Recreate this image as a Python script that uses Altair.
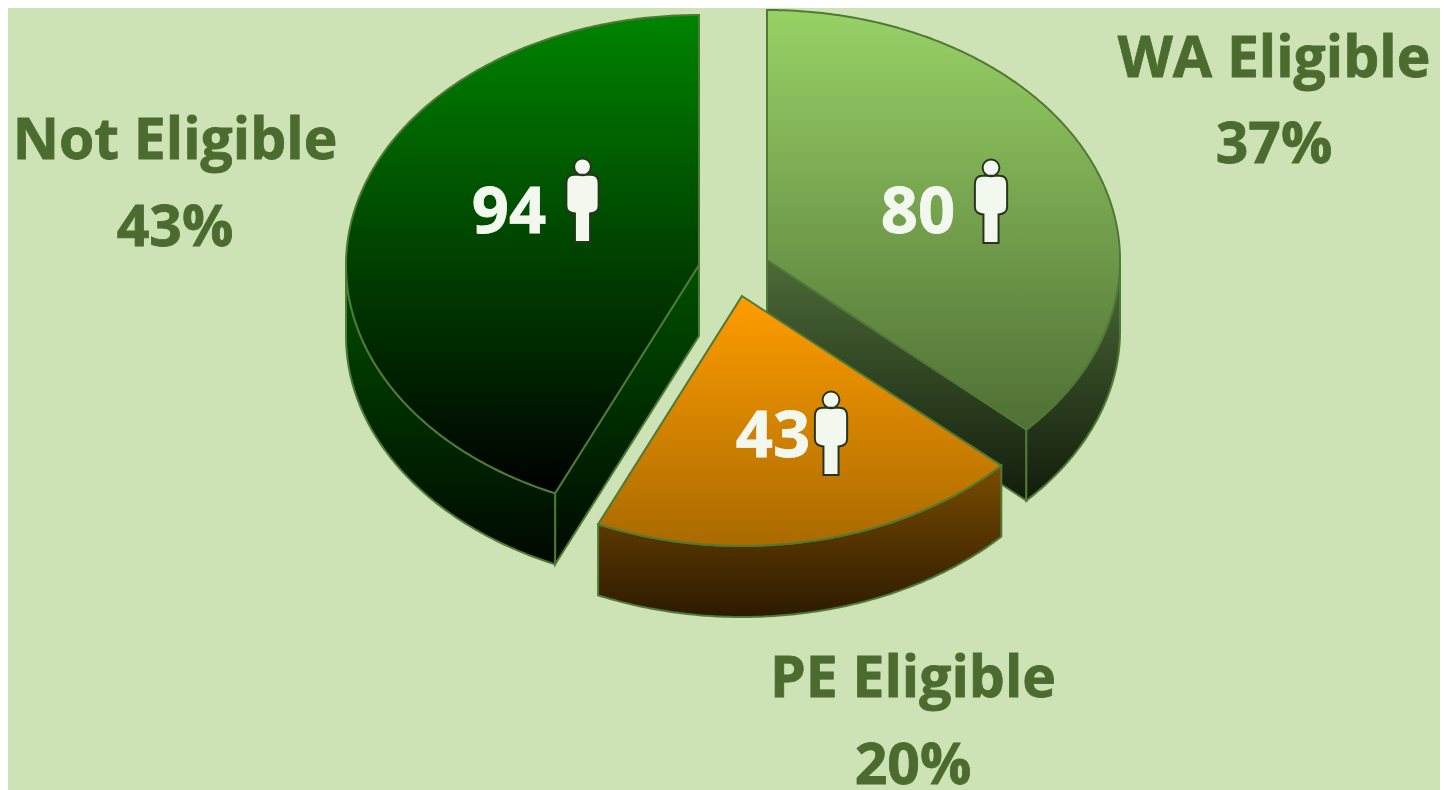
import math
import altair as alt
import pandas as pd

# --- data ---
names = ["WA Eligible", "PE Eligible", "Not Eligible"]
counts = [80, 43, 94]
percents = ["37%", "20%", "43%"]

# --- style and layout (page pixels minus the 8px page margin) ---
BG = "#cde3b5"
TEXT = "#4c6b2f"
EDGE = "#4f7a35"
INK = "#f3f8ef"
FONT = "Open Sans"
RX, RY, DEPTH = 353, 250, 71
OFF = 8
centres = {"WA Eligible": (767, 260), "PE Eligible": (742, 296), "Not Eligible": (699, 265)}
top_fill = {"WA Eligible": ("#98d266", "#506f35"),
            "PE Eligible": ("#ff9d00", "#a96a00"),
            "Not Eligible": ("#008400", "#000000")}
side_fill = {"WA Eligible": ("#4d6a38", "#121c0c"),
             "PE Eligible": ("#7a4c00", "#2c1a00"),
             "Not Eligible": ("#005000", "#000800")}
label_pos = {"WA Eligible": (1274, 77, 163), "PE Eligible": (913, 697, 784), "Not Eligible": (175, 159, 246)}
count_pos = {"WA Eligible": (918, 233), "PE Eligible": (773, 457), "Not Eligible": (509, 233)}
icon_pos = {"WA Eligible": (991, 201), "PE Eligible": (831, 433), "Not Eligible": (582.5, 200)}
PERSON = ("M0,-0.6 L0.2,-0.6 Q0.384,-0.6 0.384,-0.4 L0.384,0.14 Q0.384,0.3 0.18,0.32 "
          "L0.18,1 L-0.18,1 L-0.18,0.32 Q-0.384,0.3 -0.384,0.14 L-0.384,-0.4 "
          "Q-0.384,-0.6 -0.2,-0.6 Z "
          "M-0.2,-0.79 A0.2,0.2 0 1 1 0.2,-0.79 A0.2,0.2 0 1 1 -0.2,-0.79 Z")


def rim(name, deg, drop=0):
    cx, cy = centres[name]
    t = math.radians(deg)
    return (cx + RX * math.sin(t) - OFF, cy - RY * math.cos(t) + drop - OFF)


def sweep(start, end):
    n = max(2, int(abs(end - start)) * 2)
    return [start + (end - start) * k / n for k in range(n + 1)]


def poly(points, colours, stroke_width=2):
    df = pd.DataFrame(points, columns=["x", "y"])
    df["i"] = range(len(df))
    fill = alt.Gradient(
        gradient="linear", x1=0, y1=0, x2=0, y2=1,
        stops=[alt.GradientStop(color=colours[0], offset=0),
               alt.GradientStop(color=colours[1], offset=1)],
    )
    return alt.Chart(df).mark_line(
        interpolate="linear-closed", fill=fill, stroke=EDGE, strokeWidth=stroke_width
    ).encode(
        x=alt.X("x:Q", scale=None, axis=None),
        y=alt.Y("y:Q", scale=None, axis=None),
        order=alt.Order("i:Q"),
    )


total = sum(counts)
edges = [0]
for c in counts:
    edges.append(edges[-1] + 360 * c / total)
span = {n: (edges[i], edges[i + 1]) for i, n in enumerate(names)}

layers = []


def radial_face(name, deg):
    cx, cy = centres[name]
    p = (cx - OFF, cy - OFF)
    q = rim(name, deg)
    return [p, q, (q[0], q[1] + DEPTH), (p[0], p[1] + DEPTH)]


def wall(name, a, b):
    upper = [rim(name, d) for d in sweep(a, b)]
    lower = [rim(name, d, DEPTH) for d in sweep(b, a)]
    return upper + lower


def top(name):
    a, b = span[name]
    cx, cy = centres[name]
    return [(cx - OFF, cy - OFF)] + [rim(name, d) for d in sweep(a, b)]


# WA slice
n = "WA Eligible"
layers += [poly(radial_face(n, span[n][1]), side_fill[n]),
           poly(wall(n, 90, span[n][1]), side_fill[n]),
           poly(top(n), top_fill[n])]
# Not eligible slice
n = "Not Eligible"
layers += [poly(radial_face(n, span[n][0]), side_fill[n]),
           poly(wall(n, span[n][0], 270), side_fill[n]),
           poly(top(n), top_fill[n])]
# PE slice
n = "PE Eligible"
layers += [poly(wall(n, span[n][0], span[n][1]), side_fill[n]),
           poly(top(n), top_fill[n])]

label_rows = []
for nm, pc in zip(names, percents):
    x, y1, y2 = label_pos[nm]
    label_rows += [{"x": x - OFF, "y": y1 - OFF, "t": nm}, {"x": x - OFF, "y": y2 - OFF, "t": pc}]
labels = alt.Chart(pd.DataFrame(label_rows)).mark_text(
    font=FONT, fontSize=57, fontWeight="bold", color=TEXT, stroke=TEXT, strokeWidth=0.8,
    align="center", baseline="alphabetic"
).encode(x=alt.X("x:Q", scale=None, axis=None), y=alt.Y("y:Q", scale=None, axis=None), text="t:N")

count_rows = [{"x": count_pos[nm][0] - OFF, "y": count_pos[nm][1] - OFF, "t": str(c)}
              for nm, c in zip(names, counts)]
count_text = alt.Chart(pd.DataFrame(count_rows)).mark_text(
    font=FONT, fontSize=65, fontWeight="bold", color=INK, stroke=INK, strokeWidth=0.8,
    align="center", baseline="alphabetic"
).encode(x=alt.X("x:Q", scale=None, axis=None), y=alt.Y("y:Q", scale=None, axis=None), text="t:N")

icon_rows = [{"x": icon_pos[nm][0] - OFF, "y": icon_pos[nm][1] - OFF} for nm in names]
icons = alt.Chart(pd.DataFrame(icon_rows)).mark_point(
    shape=PERSON, size=7056, filled=True, fill=INK, stroke="#26351c", strokeWidth=2, opacity=1
).encode(x=alt.X("x:Q", scale=None, axis=None), y=alt.Y("y:Q", scale=None, axis=None))

chart = alt.layer(*layers, labels, count_text, icons).properties(
    width=1432, height=782, background=BG, padding=0,
    autosize=alt.AutoSizeParams(type="none"),
).configure_view(stroke=None)

chart.save("out.html", embed_options={"renderer": "svg", "actions": False})
